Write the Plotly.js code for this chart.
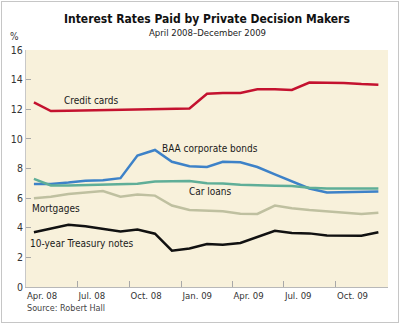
<!DOCTYPE html>
<html>
<head>
<meta charset="utf-8">
<script src="https://cdn.plot.ly/plotly-3.0.1.min.js"></script>
<style>
  html, body { margin: 0; padding: 0; background: #fff; }
  #chart { position: absolute; left: 0; top: 0; width: 400px; height: 324px; }
  #frame { position: absolute; left: 1px; top: 1px; width: 396px; height: 320px; border: 1px solid #c6c6c6; pointer-events: none; }
</style>
</head>
<body>
<div id="chart"></div>
<div id="frame"></div>
<script>
const months = ["2008-04-15","2008-05-15","2008-06-15","2008-07-15","2008-08-15","2008-09-15","2008-10-15",
  "2008-11-15","2008-12-15","2009-01-15","2009-02-15","2009-03-15","2009-04-15","2009-05-15","2009-06-15",
  "2009-07-15","2009-08-15","2009-09-15","2009-10-15","2009-11-15","2009-12-15"];

const creditCards = [12.47, 11.88, 11.9, 11.92, 11.95, 11.97, 11.98, 12.05, 12.05, 12.05, 13.05, 13.1, 13.1, 13.35, 13.35, 13.3, 13.8, 13.8, 13.78, 13.7, 13.65];
const baaBonds    = [6.95, 6.95, 7.05, 7.18, 7.2, 7.35, 8.88, 9.25, 8.45, 8.15, 8.1, 8.45, 8.42, 8.1, 7.6, 7.15, 6.65, 6.38, 6.4, 6.42, 6.45];
const carLoans    = [7.3, 6.85, 6.85, 6.87, 6.9, 6.92, 6.97, 7.12, 7.15, 7.15, 7.0, 6.98, 6.9, 6.85, 6.83, 6.82, 6.7, 6.65, 6.65, 6.65, 6.65];
const mortgages   = [6.0, 6.1, 6.28, 6.4, 6.48, 6.1, 6.25, 6.17, 5.5, 5.2, 5.15, 5.12, 4.95, 4.93, 5.5, 5.32, 5.2, 5.1, 5.0, 4.93, 5.02];
const treasury    = [3.7, 3.95, 4.2, 4.1, 3.93, 3.75, 3.88, 3.6, 2.45, 2.6, 2.9, 2.85, 2.97, 3.4, 3.8, 3.65, 3.62, 3.47, 3.46, 3.46, 3.7];

const xTickVals = ["2008-04-01","2008-07-01","2008-10-01","2009-01-01","2009-04-01","2009-07-01","2009-10-01","2010-01-01"];
const xTickText = ["Apr. 08","Jul. 08","Oct. 08","Jan. 09","Apr. 09","Jul. 09","Oct. 09",""];
const yTickVals = [0, 2, 4, 6, 8, 10, 12, 14, 16];

const seriesNames = ["Credit cards", "BAA corporate bonds", "Car loans", "Mortgages", "10-year Treasury notes"];
const seriesData = [creditCards, baaBonds, carLoans, mortgages, treasury];
const seriesColors = ["#c4122f", "#3d82c8", "#5fae98", "#bfc0a0", "#111111"];

const FONT = '"Liberation Sans Narrow", "DejaVu Sans Condensed", "Arial Narrow", sans-serif';

const traces = seriesData.map((d, i) => ({
  type: "scatter", mode: "lines", x: months, y: d, name: seriesNames[i],
  line: { color: seriesColors[i], width: 2.5 }, hoverinfo: "skip"
}));

const labelPos = [
  { x: "2008-07-25", y: 12.56 },
  { x: "2009-02-21", y: 9.38 },
  { x: "2009-02-21", y: 6.45 },
  { x: "2008-05-24", y: 5.27 },
  { x: "2008-07-09", y: 2.97 }
];

const annotations = seriesNames.map((n, i) => ({
  text: n, x: labelPos[i].x, y: labelPos[i].y, xref: "x", yref: "y",
  showarrow: false, xanchor: "center", yanchor: "middle",
  font: { family: FONT, size: 10, color: "#1a1a1a" }
}));
annotations.push({
  text: "Source: Robert Hall", xref: "paper", yref: "paper", x: -0.003, y: -0.089,
  xanchor: "left", yanchor: "middle", showarrow: false,
  font: { family: FONT, size: 9, color: "#444" }
});
annotations.push({
  text: "%", xref: "paper", yref: "paper", x: -0.033, y: 1.055,
  xanchor: "center", yanchor: "middle", showarrow: false,
  font: { family: FONT, size: 10, color: "#333" }
});
annotations.push({
  text: "<b>Interest Rates Paid by Private Decision Makers</b>", xref: "paper", yref: "paper",
  x: 0.501, y: 1.131, xanchor: "center", yanchor: "middle", showarrow: false,
  font: { family: FONT, size: 12, color: "#111" }
});
annotations.push({
  text: "April 2008–December 2009", xref: "paper", yref: "paper",
  x: 0.501, y: 1.072, xanchor: "center", yanchor: "middle", showarrow: false,
  font: { family: FONT, size: 9.5, color: "#222" }
});

const layout = {
  width: 400, height: 324,
  margin: { l: 26, r: 12, t: 50, b: 37 },
  paper_bgcolor: "rgba(0,0,0,0)",
  plot_bgcolor: "#f8f1db",
  showlegend: false,
  xaxis: {
    type: "date", range: ["2008-04-01", "2010-01-01"],
    tickmode: "array", tickvals: xTickVals, ticktext: xTickText,
    ticks: "inside", ticklen: 6, tickcolor: "#a8a8a8", tickwidth: 1,
    ticklabelposition: "outside right",
    showgrid: false, zeroline: false, showline: true, linecolor: "#b8b8b8", linewidth: 1,
    tickfont: { family: FONT, size: 9.5, color: "#333" }, fixedrange: true
  },
  yaxis: {
    range: [0, 16], tickmode: "array", tickvals: yTickVals,
    ticks: "inside", ticklen: 5, tickcolor: "#a8a8a8", tickwidth: 1,
    showgrid: false, zeroline: false, showline: true, linecolor: "#c8c8c8", linewidth: 1,
    tickfont: { family: FONT, size: 10.5, color: "#333" }, fixedrange: true
  },
  annotations: annotations
};

Plotly.newPlot("chart", traces, layout, { staticPlot: true, displayModeBar: false });
</script>
</body>
</html>
